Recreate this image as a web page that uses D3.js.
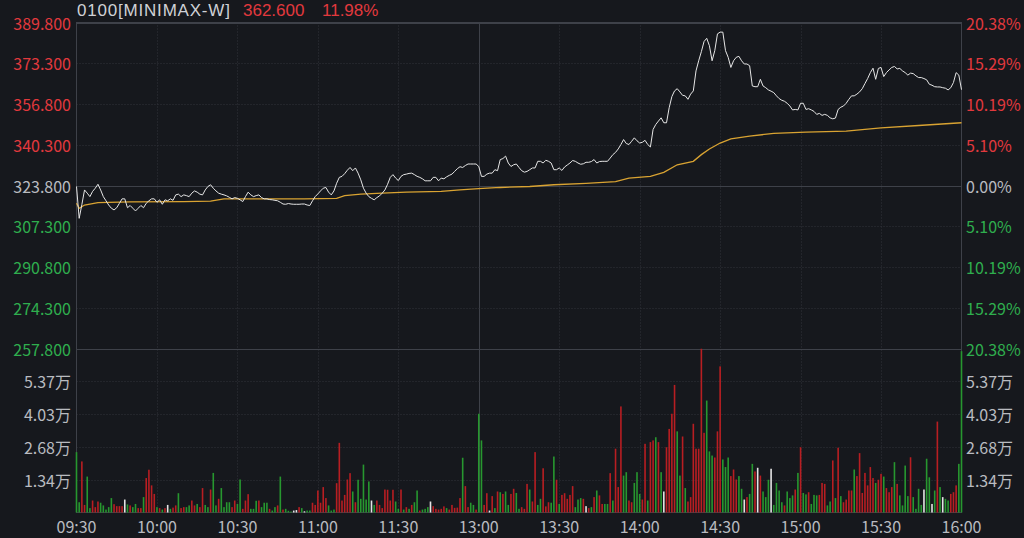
<!DOCTYPE html>
<html lang="zh">
<head>
<meta charset="UTF-8">
<title>0100 MINIMAX-W 分时</title>
<script src="https://d3js.org/d3.v7.min.js"></script>
<style>
  body { margin: 0; background: #16181d; overflow: hidden; }
  svg { display: block; }
  text { font-family: "Noto Sans CJK SC", "Microsoft YaHei", sans-serif; font-size: 16px; }
  .header { font-family: "Liberation Sans", Arial, sans-serif; font-size: 17px; }
  .grid { stroke: #30333b; stroke-width: 1; stroke-dasharray: 1,2; }
  .solid { stroke: #3e4149; stroke-width: 1; }
  .frame { stroke: #3e4149; stroke-width: 1; fill: none; }
  .price-line { fill: none; stroke: #e6e6e6; stroke-width: 1; }
  .avg-line { fill: none; stroke: #d9a332; stroke-width: 1.3; }
</style>
</head>
<body>
<svg width="1024" height="538"></svg>
<script>
// ---- data ----
const prevClose = 323.8;
const lastPrice = 362.6;
const lastPct = "11.98%";
const stockName = "0100[MINIMAX-W]";

const timeLabels = ["09:30", "10:00", "10:30", "11:00", "11:30", "13:00", "13:30", "14:00", "14:30", "15:00", "15:30", "16:00"];
const timeIdx = [0, 30, 60, 90, 120, 150, 180, 210, 240, 270, 300, 330];

const priceTicks = [389.8, 373.3, 356.8, 340.3, 323.8, 307.3, 290.8, 274.3, 257.8];
const pctLabels = ["20.38%", "15.29%", "10.19%", "5.10%", "0.00%", "5.10%", "10.19%", "15.29%", "20.38%"];
const volTicks = [1.34, 2.68, 4.03, 5.37];
const volMax = 6.71;

// one price per minute (HKD)
const price = [
  323.4, 310.5, 316.1, 322.0, 320.7, 319.3, 321.4, 322.7, 324.3, 322.0,
  319.3, 317.6, 315.9, 314.6, 313.9, 314.8, 316.6, 318.4, 318.4, 314.8,
  315.7, 314.6, 313.5, 314.6, 315.7, 314.8, 316.6, 317.6, 318.4, 318.4,
  317.0, 318.0, 316.2, 318.0, 317.6, 318.4, 317.8, 320.0, 320.3, 319.3,
  320.0, 319.7, 319.3, 320.7, 321.6, 321.1, 320.3, 320.0, 322.0, 323.4,
  324.1, 322.7, 321.6, 320.7, 320.3, 320.0, 319.6, 319.0, 318.4, 318.9,
  318.6, 318.0, 317.3, 319.3, 321.1, 320.0, 319.3, 319.7, 320.0, 318.9,
  318.4, 318.4, 318.1, 318.0, 317.8, 317.6, 317.0, 316.3, 316.2, 316.5,
  316.3, 316.2, 316.2, 316.2, 316.3, 316.3, 315.9, 315.7, 317.6, 319.3,
  320.4, 321.6, 322.7, 323.0, 321.1, 320.0, 321.6, 324.7, 327.1, 327.5,
  328.6, 330.0, 331.1, 329.8, 330.9, 328.8, 326.1, 322.7, 320.7, 319.3,
  318.6, 318.0, 318.9, 319.6, 320.7, 322.0, 324.3, 327.1, 328.2, 326.8,
  325.8, 327.5, 328.2, 328.4, 328.7, 328.8, 328.2, 327.5, 327.1, 326.5,
  325.7, 325.7, 325.7, 327.1, 327.1, 325.7, 326.8, 326.5, 327.3, 327.9,
  328.4, 329.5, 330.6, 331.4, 331.1, 331.9, 332.5, 332.5, 332.5, 332.5,
  331.5, 327.5, 327.5, 328.4, 328.8, 328.8, 330.2, 329.8, 334.3, 334.7,
  335.7, 332.9, 331.5, 332.2, 332.5, 331.1, 329.8, 329.2, 329.5, 330.2,
  330.9, 330.9, 333.6, 333.6, 332.9, 334.0, 333.6, 332.9, 330.2, 330.2,
  330.9, 329.9, 331.3, 332.1, 332.9, 333.9, 333.6, 332.9, 332.4, 332.6,
  333.2, 333.2, 333.5, 334.3, 332.9, 333.5, 333.6, 333.6, 333.6, 334.9,
  336.3, 337.2, 338.6, 340.4, 342.4, 340.8, 340.4, 341.7, 343.1, 341.9,
  341.0, 341.3, 342.1, 340.4, 339.4, 346.5, 348.5, 349.9, 351.2, 349.2,
  349.2, 355.3, 359.8, 362.1, 363.0, 361.7, 360.3, 360.1, 358.7, 360.8,
  362.1, 370.2, 374.3, 378.0, 382.1, 383.4, 380.4, 374.3, 378.4, 385.2,
  385.9, 385.9, 378.4, 375.7, 371.6, 374.3, 375.7, 376.1, 374.3, 373.0,
  373.0, 372.3, 364.1, 363.8, 363.8, 366.8, 364.1, 363.4, 362.5, 362.0,
  361.4, 360.1, 359.0, 358.3, 357.9, 357.1, 356.0, 354.4, 354.6, 354.4,
  357.1, 357.1, 354.6, 354.9, 354.4, 353.8, 352.6, 353.0, 352.2, 352.6,
  352.2, 351.2, 350.8, 351.1, 354.6, 355.5, 356.0, 357.1, 358.7, 360.1,
  360.1, 360.8, 361.7, 363.0, 365.1, 367.1, 369.5, 371.3, 366.8, 371.2,
  371.6, 367.9, 369.5, 370.6, 371.6, 372.0, 371.0, 371.2, 370.2, 369.5,
  368.5, 369.3, 369.1, 368.2, 367.5, 367.5, 367.1, 366.6, 364.8, 364.4,
  363.8, 363.7, 363.7, 363.4, 363.2, 362.5, 363.4, 365.5, 369.5, 368.5,
  362.6
];

// average price line, read at a few minutes
const avgIdx = [0, 1, 3, 8, 20, 40, 50, 55, 85, 97, 100, 106, 114, 123, 136, 143, 150, 158, 169, 178,
  190, 201, 206, 214, 219, 224, 230, 233, 236, 240, 244, 251, 260, 272, 287, 300, 314, 330];
const avgPrice = [316.6, 314.6, 315.9, 316.9, 317.2, 317.3, 317.5, 318.4, 318.4, 318.6, 319.7, 320.3, 320.7, 321.1,
  321.4, 322.0, 322.5, 323.0, 323.4, 324.1, 324.7, 325.4, 326.8, 327.5, 329.1, 332.2, 333.6, 336.3, 338.6,
  341.0, 342.7, 343.8, 344.9, 345.4, 345.8, 347.1, 348.1, 349.2];

// volume per minute, in 万 shares
const volume = [
  2.47, 0.42, 2.09, 0.31, 1.47, 0.18, 0.49, 0.22, 0.45, 0.40,
  0.29, 0.12, 0.22, 0.59, 0.34, 0.26, 0.26, 0.26, 0.53, 0.33,
  0.29, 0.22, 0.35, 0.18, 0.18, 0.63, 1.41, 1.75, 1.11, 0.76,
  0.22, 0.18, 0.12, 0.18, 0.31, 0.15, 0.20, 0.29, 0.79, 0.18,
  0.22, 0.22, 0.29, 0.49, 0.29, 0.35, 0.22, 1.00, 0.31, 0.22,
  0.94, 1.62, 0.29, 0.56, 1.00, 0.22, 0.42, 0.42, 0.22, 0.49,
  0.35, 1.35, 0.15, 0.49, 0.75, 0.15, 0.15, 0.48, 0.49, 0.22,
  0.40, 0.40, 0.15, 0.08, 0.22, 0.29, 1.47, 0.12, 0.15, 0.07,
  0.04, 0.08, 0.10, 0.22, 0.18, 0.05, 0.08, 0.08, 0.40, 0.31,
  0.90, 0.40, 1.04, 0.59, 0.29, 0.08, 0.12, 1.20, 2.85, 0.49,
  0.72, 1.35, 1.61, 0.86, 0.42, 1.34, 0.56, 1.96, 0.53, 1.27,
  0.49, 0.31, 0.49, 0.31, 0.18, 0.94, 0.93, 0.49, 0.93, 0.45,
  0.15, 0.94, 0.12, 0.22, 0.15, 0.31, 0.42, 0.90, 0.08, 0.12,
  0.15, 0.22, 0.45, 0.26, 0.15, 0.12, 0.15, 0.25, 0.18, 0.12,
  0.31, 0.19, 0.20, 0.59, 2.24, 1.08, 0.22, 0.40, 0.31, 0.12,
  4.04, 2.95, 0.31, 0.79, 0.08, 0.67, 0.18, 0.86, 0.83, 0.76,
  0.86, 0.31, 0.76, 0.97, 0.80, 0.15, 0.22, 0.15, 1.17, 0.94,
  0.45, 2.47, 0.31, 0.56, 1.81, 0.25, 0.42, 0.40, 2.29, 1.34,
  0.35, 0.72, 0.79, 0.56, 0.72, 1.08, 0.22, 0.53, 0.59, 0.56,
  0.26, 0.18, 0.22, 0.63, 0.90, 0.70, 0.35, 0.35, 0.35, 1.61,
  0.49, 2.61, 1.04, 4.34, 1.51, 1.65, 0.49, 0.42, 1.21, 1.65,
  0.76, 0.53, 2.81, 0.49, 2.88, 2.95, 3.08, 2.88, 1.65, 0.86,
  2.67, 3.42, 4.04, 5.22, 3.32, 1.51, 3.11, 1.00, 0.45, 0.63,
  3.63, 2.61, 2.61, 6.70, 3.26, 4.58, 2.50, 2.33, 2.25, 3.32,
  5.98, 2.17, 1.86, 2.25, 1.49, 1.76, 1.35, 1.49, 0.97, 0.53,
  0.63, 0.76, 1.99, 1.68, 1.83, 1.51, 0.86, 0.63, 1.34, 1.79,
  0.31, 1.21, 0.90, 0.42, 0.29, 0.86, 0.59, 0.70, 0.94, 1.62,
  2.67, 0.80, 0.74, 0.83, 0.35, 0.72, 0.70, 0.72, 1.21, 1.17,
  0.29, 0.45, 2.13, 0.59, 2.65, 0.67, 0.42, 0.53, 0.90, 0.90,
  1.76, 1.49, 2.43, 0.80, 1.62, 1.11, 1.86, 1.41, 1.21, 1.34,
  1.58, 1.47, 1.00, 0.83, 1.04, 2.06, 1.17, 0.70, 0.29, 1.92,
  0.67, 2.26, 0.63, 0.15, 0.97, 0.31, 0.94, 2.20, 1.44, 0.35,
  0.90, 3.72, 1.04, 0.63, 0.56, 0.49, 0.76, 0.83, 1.11, 1.99,
  6.60
];

// bar colour per minute: r = up, g = down, w = flat
const volDir =
  "ggrrggrrrg" + "ggggrrrrwg" + "rggrrgrrrr" + "grgrwgrrgr" + "rggrrgrrgg" +
  "rggrggggrr" + "ggrrrgggrg" + "ggrggrgrgg" + "gwwrgwggrr" + "rrrrgggrrr" +
  "rrrgrggggg" + "wgrrrrrrrg" + "grgrgrggrg" + "ggwrrrrrgr" + "rrrrgrrggr" +
  "ggrrwrgrgr" + "ggrrggrrrg" + "rrggrrrggr" + "grrrrrgggr" + "wrgrgrrggr" +
  "grrrggrrgg" + "grrgrrgrgw" + "rrrrggrgrr" + "rrrrrgggrr" + "rgggrrrggw" +
  "rggrwrgggw" + "ggggrgggrg" + "rggrgggrrr" + "ggrgrgrrrr" + "grrrrrrrgr" +
  "rgrrrgrggg" + "grggggwggw" + "grgwggrrrg" + "g";

// ---- drawing ----
const svg = d3.select("svg");
const pLeft = 76.5, pRight = 961.5, pTop = 22.5, pMid = 348.5, pBottom = 512.5;

const RED = "#e2393d", GREEN = "#2fae4e", GREY = "#b9bbc0";
const barColor = { r: "#b81e22", g: "#27972f", w: "#e4e4e4" };

const x = d3.scaleLinear().domain([0, 330]).range([pLeft, pRight]);
const yP = d3.scaleLinear().domain([priceTicks[8], priceTicks[0]]).range([pMid, pTop]);
const yV = d3.scaleLinear().domain([0, volMax]).range([pBottom, pMid]);

// vertical grid
timeIdx.forEach((t, i) => {
    if (i === 0 || i === timeIdx.length - 1) return;
    svg.append("line")
        .attr("x1", Math.round(x(t)) + 0.5).attr("x2", Math.round(x(t)) + 0.5)
        .attr("y1", pTop).attr("y2", pBottom)
        .attr("class", t === 150 ? "solid" : "grid");
});

// price horizontal grid
priceTicks.forEach(p => {
    const yy = Math.round(yP(p)) + 0.5;
    svg.append("line")
        .attr("x1", pLeft).attr("x2", pRight).attr("y1", yy).attr("y2", yy)
        .attr("class", (p === prevClose || p === priceTicks[8] || p === priceTicks[0]) ? "solid" : "grid");
});

// volume horizontal grid
volTicks.forEach(v => {
    const yy = Math.round(yV(v)) + 0.5;
    svg.append("line")
        .attr("x1", pLeft).attr("x2", pRight).attr("y1", yy).attr("y2", yy)
        .attr("class", "grid");
});

svg.append("rect")
    .attr("x", pLeft).attr("y", pTop)
    .attr("width", pRight - pLeft).attr("height", pBottom - pTop)
    .attr("class", "frame");

// volume bars
svg.append("g").selectAll("rect")
    .data(volume)
    .join("rect")
    .attr("x", (d, i) => x(i) - 0.8)
    .attr("y", d => yV(d))
    .attr("width", 1.6)
    .attr("height", d => yV(0) - yV(d))
    .attr("fill", (d, i) => barColor[volDir[i]]);

// average line
const avgData = avgIdx.map((t, i) => [t, avgPrice[i]]);
svg.append("path")
    .datum(avgData)
    .attr("class", "avg-line")
    .attr("d", d3.line().x(d => x(d[0])).y(d => yP(d[1])));

// price line
svg.append("path")
    .datum(price)
    .attr("class", "price-line")
    .attr("d", d3.line().x((d, i) => x(i)).y(d => yP(d)));

// left price labels / right percent labels
priceTicks.forEach((p, i) => {
    const c = p > prevClose ? RED : (p < prevClose ? GREEN : GREY);
    svg.append("text")
        .attr("x", 71).attr("y", yP(p))
        .attr("text-anchor", "end").attr("dominant-baseline", "central")
        .attr("fill", c)
        .text(p.toFixed(3));
    svg.append("text")
        .attr("x", 966).attr("y", yP(p))
        .attr("dominant-baseline", "central")
        .attr("fill", c)
        .text(pctLabels[i]);
});

// volume labels
volTicks.forEach(v => {
    svg.append("text")
        .attr("x", 71).attr("y", yV(v))
        .attr("text-anchor", "end").attr("dominant-baseline", "central")
        .attr("fill", GREY)
        .text(v.toFixed(2) + "万");
    svg.append("text")
        .attr("x", 966).attr("y", yV(v))
        .attr("dominant-baseline", "central")
        .attr("fill", GREY)
        .text(v.toFixed(2) + "万");
});

// time labels
timeIdx.forEach((t, i) => {
    svg.append("text")
        .attr("x", x(t)).attr("y", 526)
        .attr("text-anchor", "middle").attr("dominant-baseline", "central")
        .attr("fill", GREY)
        .text(timeLabels[i]);
});

// header
svg.append("text").attr("class", "header").attr("x", 77).attr("y", 15.5)
    .attr("letter-spacing", "0.8px")
    .attr("fill", "#cfd1d6").text(stockName);
svg.append("text").attr("class", "header").attr("x", 243).attr("y", 15.5)
    .attr("fill", RED).text(lastPrice.toFixed(3));
svg.append("text").attr("class", "header").attr("x", 322).attr("y", 15.5)
    .attr("fill", RED).text(lastPct);
</script>
</body>
</html>
